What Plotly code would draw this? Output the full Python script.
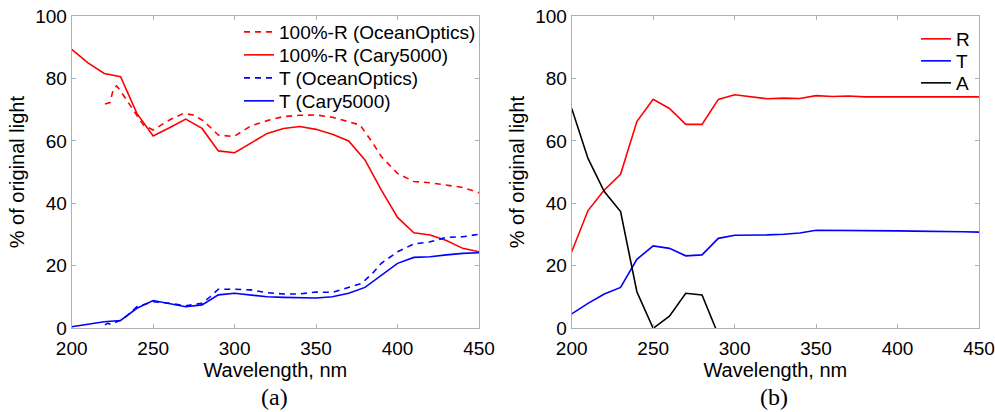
import plotly.graph_objects as go

# ---- data (left panel) ----
wl_r_cary = [200, 210, 220, 230, 240, 250, 260, 270, 280, 290, 300, 310, 320, 330, 340, 350, 360, 370, 380, 390, 400, 410, 420, 430, 440, 450]
r_cary = [89.3, 85.0, 81.6, 80.6, 68.8, 61.6, 64.2, 67.0, 64.0, 56.8, 56.2, 59.4, 62.4, 64.0, 64.6, 63.7, 62.1, 60.0, 53.9, 44.3, 35.5, 30.6, 29.9, 28.1, 25.6, 24.5]

wl_r_ocean = [220.4, 223.5, 225.5, 227.6, 229.6, 233.7, 240, 244, 250, 260, 268.5, 274.6, 280.7, 290, 299.5, 310, 320, 330, 340, 350, 360, 370, 377, 385, 390, 400, 410, 420, 430, 440, 450]
r_ocean = [71.8, 72.3, 76.5, 77.6, 76.3, 73.1, 67.8, 65.1, 63.5, 66.7, 68.8, 68.3, 66.5, 61.9, 61.4, 64.8, 66.5, 67.8, 68.2, 68.3, 67.6, 66.2, 65.1, 59.2, 55.0, 49.6, 47.0, 46.6, 45.9, 45.1, 43.4]

wl_t_cary = [200, 210, 220, 230, 240, 250, 260, 270, 280, 290, 300, 310, 320, 330, 340, 350, 360, 370, 380, 390, 400, 410, 420, 430, 440, 450]
t_cary = [0.5, 1.4, 2.1, 2.5, 6.4, 8.9, 7.8, 6.9, 7.5, 10.7, 11.2, 10.7, 10.1, 9.9, 9.9, 9.7, 10.1, 11.2, 13.1, 17.1, 20.8, 22.7, 22.9, 23.5, 24.0, 24.2]

wl_t_ocean = [220.4, 222, 224, 229.6, 233.7, 240, 250, 260, 270, 280, 285, 290, 300, 310, 320, 330, 340, 350, 360, 370, 378, 385, 390, 400, 410, 420, 430, 440, 450]
t_ocean = [1.1, 1.6, 1.3, 2.5, 3.9, 6.9, 8.5, 8.0, 7.2, 8.0, 10.1, 12.5, 12.5, 12.3, 11.4, 11.0, 11.0, 11.6, 11.5, 13.1, 14.4, 17.8, 20.8, 24.5, 27.0, 27.7, 29.1, 29.3, 30.1]

# ---- data (right panel) ----
wl_b = [200, 210, 220, 230, 240, 250, 260, 270, 280, 290, 300, 310, 320, 330, 340, 350, 360, 370, 380, 390, 400, 410, 420, 430, 440, 450]
r_b = [24.5, 37.7, 44.3, 49.3, 66.2, 73.3, 70.4, 65.3, 65.3, 73.3, 74.8, 74.2, 73.5, 73.7, 73.6, 74.5, 74.2, 74.4, 74.1, 74.1, 74.1, 74.0, 74.0, 74.1, 74.1, 74.1]
t_b = [4.6, 8.0, 11.0, 13.1, 22.1, 26.4, 25.6, 23.2, 23.5, 28.8, 29.8, 29.8, 29.9, 30.1, 30.5, 31.4, 31.4, 31.4, 31.2, 31.2, 31.2, 31.1, 31.1, 31.0, 30.9, 30.8]
wl_a = [200, 210, 220, 230, 240, 250, 260, 270, 280, 290]
a_b = [70.4, 54.4, 43.8, 37.4, 11.7, 0.0, 3.9, 11.2, 10.7, -2.1]

x_ticks = [200, 250, 300, 350, 400, 450]
y_ticks = [0, 20, 40, 60, 80, 100]

RED = "#ff0000"
BLUE = "#0000ff"
BLACK = "#000000"
FONT = "Liberation Sans, Arial, Helvetica, sans-serif"

W, H = 995, 412
def px(x):
    return x / W
def py(y):
    return 1 - y / H

lw = 1.6
DASH = "6px,5px"
traces = [
    # x, y, name, color, dash, axis-suffix, legend row center (px), legend text start (px)
    (wl_r_ocean, r_ocean, "100%-R (OceanOptics)", RED, DASH, "", 32, 278),
    (wl_r_cary, r_cary, "100%-R (Cary5000)", RED, None, "", 55, 278),
    (wl_t_ocean, t_ocean, "T (OceanOptics)", BLUE, DASH, "", 78, 278),
    (wl_t_cary, t_cary, "T (Cary5000)", BLUE, None, "", 101, 278),
    (wl_b, r_b, "R", RED, None, "2", 39, 955),
    (wl_b, t_b, "T", BLUE, None, "2", 61, 955),
    (wl_a, a_b, "A", BLACK, None, "2", 83, 955),
]

fig = go.Figure()
legends = {}
for i, (xs, ys, name, col, dash, sfx, row_y, text_x) in enumerate(traces):
    lname = "legend" if i == 0 else f"legend{i+1}"
    line = dict(color=col, width=lw)
    if dash:
        line["dash"] = dash
    fig.add_trace(go.Scatter(x=xs, y=ys, mode="lines", name=name, line=line,
                             xaxis="x" + sfx, yaxis="y" + sfx, legend=lname))
    legends[lname] = dict(x=px(text_x - 39), y=py(row_y - 19), xanchor="left", yanchor="top",
                          bgcolor="rgba(0,0,0,0)", borderwidth=0,
                          font=dict(family=FONT, size=19, color="black"))

axis_common = dict(showgrid=False, zeroline=False, showline=True, linecolor="#b0b0b0", linewidth=1,
                   mirror="ticks", ticks="inside", ticklen=4, tickcolor="#b0b0b0", automargin=False,
                   tickfont=dict(family=FONT, size=19, color="black"))

xaxis_common = dict(axis_common, range=[200, 450], tickvals=x_ticks, ticklabelstandoff=3,
                    title=dict(text="Wavelength, nm", font=dict(family=FONT, size=20, color="black"), standoff=4))
yaxis_common = dict(axis_common, range=[0, 100], tickvals=y_ticks,
                    title=dict(text="% of original light", font=dict(family=FONT, size=20, color="black"), standoff=5))

fig.update_layout(
    width=W, height=H,
    margin=dict(l=0, r=0, t=0, b=0),
    paper_bgcolor="white", plot_bgcolor="white",
    xaxis=dict(xaxis_common, domain=[px(71.7), px(479)], anchor="y"),
    yaxis=dict(yaxis_common, domain=[py(328.3), py(16)], anchor="x"),
    xaxis2=dict(xaxis_common, domain=[px(571.7), px(979)], anchor="y2"),
    yaxis2=dict(yaxis_common, domain=[py(328.3), py(16)], anchor="x2"),
    showlegend=True,
    annotations=[
        dict(text="(a)", x=px(274), y=py(397), xref="paper", yref="paper", showarrow=False,
             xanchor="center", yanchor="middle",
             font=dict(family="Liberation Serif, Times New Roman, serif", size=24, color="black")),
        dict(text="(b)", x=px(774), y=py(397), xref="paper", yref="paper", showarrow=False,
             xanchor="center", yanchor="middle",
             font=dict(family="Liberation Serif, Times New Roman, serif", size=24, color="black")),
    ],
    **legends,
)

fig.write_html("out.html")
